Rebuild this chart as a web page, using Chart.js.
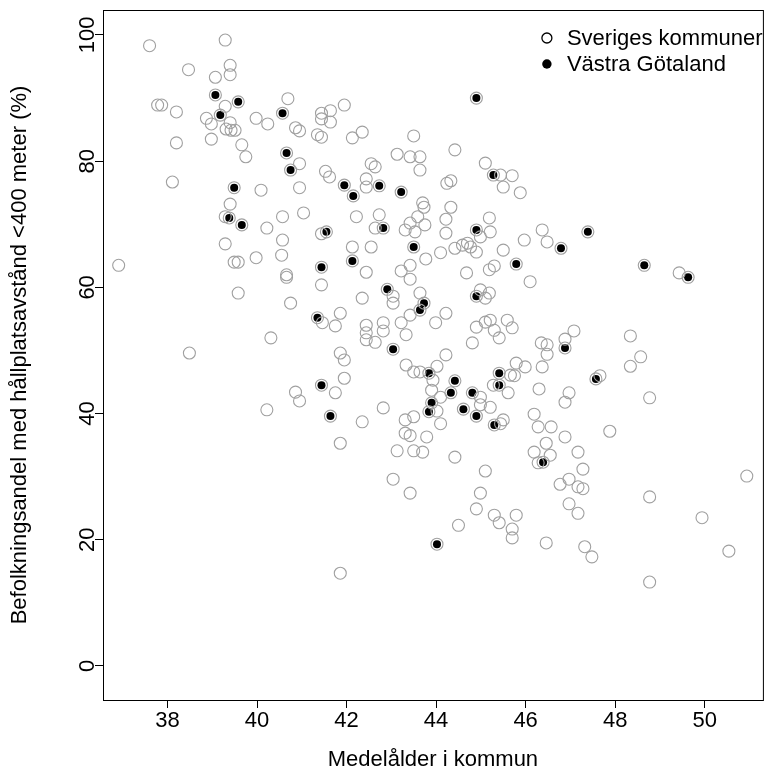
<!DOCTYPE html>
<html>
<head>
<meta charset="utf-8">
<script src="https://cdn.jsdelivr.net/npm/chart.js@4.4.0/dist/chart.umd.min.js"></script>
<style>
  html, body { margin: 0; padding: 0; background: #fff; }
  canvas { display: block; }
</style>
</head>
<body>
<canvas id="myChart" width="770" height="774"></canvas>
<script>
// kommuner utanför Västra Götaland: medelålder (x) och andel (y)
const ovrigaAlder = [
  37.60, 39.29, 38.47, 39.40, 39.40, 39.07, 39.29, 37.78, 37.87, 38.20,
  38.87, 38.98, 39.40, 39.31, 39.42, 39.51, 39.98, 40.24, 38.20, 38.98,
  39.66, 39.75, 38.11, 40.09, 39.40,
  40.69, 40.86, 40.95, 41.44, 41.44, 41.64, 41.64, 41.95, 41.35, 41.44,
  42.13, 42.35, 43.50, 40.95, 40.95, 41.53, 41.62, 42.55, 42.64, 42.44,
  42.44, 43.13, 43.42, 43.64, 43.64, 40.57, 41.04, 42.22, 42.73, 43.70,
  43.73, 43.59,
  44.42, 45.10, 45.44, 45.70, 45.50, 45.88, 44.24, 44.33, 44.33, 45.19, 44.22,
  39.29, 40.22, 39.29, 39.49, 39.58, 39.98, 36.91, 39.58, 40.31, 38.49, 40.22,
  42.64, 43.31, 43.42, 43.53, 43.75, 41.44, 40.57, 40.55, 42.13, 42.55,
  43.77, 40.66, 40.66, 42.44, 43.22, 43.42, 43.42, 41.44, 40.75, 42.35,
  43.04, 43.04, 43.64, 43.42, 43.22, 43.33, 41.86, 41.46, 41.75, 42.44,
  42.44, 42.44, 42.64, 42.82, 42.82, 41.86, 41.95, 43.33, 43.50, 43.64,
  41.95, 40.86, 40.95, 41.75, 42.82,
  44.22, 44.99, 45.21, 45.97, 46.37, 46.48, 44.10, 44.42, 44.59, 44.70,
  44.77, 44.90, 45.50, 44.68, 45.19, 45.30, 46.10, 44.99, 45.19, 45.10,
  43.99, 44.22, 44.90, 45.10, 45.21, 45.30, 45.41, 45.59, 45.70, 44.81,
  46.35, 46.48, 46.48, 46.88, 47.08, 44.22, 44.02, 43.93, 45.79, 45.99,
  45.66, 45.75, 45.28, 45.61, 46.37, 46.30, 46.97, 46.88, 44.99, 43.90,
  44.10, 44.99, 45.21,
  49.43, 48.34, 48.57, 48.34, 47.66, 48.77,
  41.86, 42.35, 43.31, 43.50, 43.31, 43.42, 43.13, 43.50, 43.70, 43.79,
  43.04, 43.42, 41.86,
  44.02, 44.10, 44.42, 45.50, 45.44, 45.10, 44.99, 44.90, 45.30, 45.41,
  45.79, 45.70, 45.70, 44.50, 46.19, 46.28, 46.57, 46.88, 46.46, 46.55,
  46.19, 46.28, 47.17, 47.28, 46.77, 46.97, 47.17, 47.28, 46.97, 47.17,
  46.46, 47.32,
  47.88, 47.48, 48.77, 49.94, 50.94, 50.54, 48.77
];
const ovrigaAndel = [
  98.3, 99.2, 94.5, 95.2, 93.7, 93.3, 88.7, 88.9, 88.9, 87.8,
  86.8, 85.9, 86.1, 85.1, 84.9, 84.9, 86.8, 85.9, 82.9, 83.5,
  82.6, 80.7, 76.7, 75.4, 73.2,
  89.9, 85.3, 84.8, 87.6, 86.7, 88.0, 86.2, 88.9, 84.2, 83.8,
  83.7, 84.6, 84.0, 79.6, 75.8, 78.4, 77.5, 79.6, 79.1, 77.2,
  75.9, 81.1, 80.7, 80.7, 78.6, 71.2, 71.8, 71.2, 71.5, 73.4,
  72.7, 71.2,
  81.8, 79.7, 77.8, 77.7, 75.9, 75.0, 76.5, 76.9, 72.7, 71.0, 70.8,
  71.2, 69.4, 66.9, 64.0, 64.0, 64.7, 63.5, 59.1, 52.0, 49.6, 40.6,
  69.4, 69.1, 70.2, 68.8, 69.9, 68.5, 67.5, 65.1, 66.4, 66.4,
  64.5, 62.0, 61.6, 62.4, 62.6, 63.5, 61.3, 60.4, 57.5, 58.3,
  58.6, 57.5, 59.1, 55.6, 54.4, 52.5, 55.9, 54.4, 53.9, 54.0,
  52.8, 51.7, 51.3, 54.4, 53.1, 49.6, 48.5, 47.7, 46.6, 46.6,
  45.6, 43.4, 42.0, 43.3, 40.9,
  68.6, 68.0, 68.8, 67.5, 69.1, 67.2, 65.5, 66.2, 66.7, 67.0,
  66.4, 65.6, 65.9, 62.3, 62.8, 63.4, 60.9, 59.6, 59.1, 58.3,
  54.4, 55.9, 53.7, 54.5, 54.8, 53.2, 52.0, 54.8, 53.6, 51.2,
  51.2, 50.9, 49.4, 51.8, 53.1, 49.3, 47.5, 45.3, 48.0, 47.4,
  46.1, 46.0, 44.5, 43.3, 47.4, 43.9, 43.3, 41.8, 42.6, 43.7,
  42.6, 41.4, 41.0,
  62.3, 52.3, 49.0, 47.5, 46.0, 42.5,
  35.3, 38.7, 39.0, 39.5, 36.9, 36.5, 34.1, 34.1, 33.9, 36.3,
  29.6, 27.4, 14.7,
  40.4, 38.4, 33.1, 39.0, 38.4, 30.9, 27.4, 24.9, 23.9, 22.7,
  23.9, 21.7, 20.3, 22.3, 39.9, 37.9, 37.9, 36.3, 35.3, 33.4,
  33.9, 32.2, 33.9, 31.2, 28.8, 29.6, 28.4, 28.1, 25.7, 24.2,
  19.5, 18.9,
  37.2, 17.3, 26.8, 23.5, 30.1, 18.2, 13.3
];

// Västra Götalands kommuner
const vgAlder = [
  39.07, 39.18, 39.58, 39.49, 39.38, 39.66, 40.57, 40.66, 40.75, 41.95,
  42.15, 42.73, 43.22, 44.90, 45.28, 41.55, 42.82, 43.50, 41.44, 42.13,
  42.91, 43.73, 43.64, 41.35, 43.04, 41.44, 41.64, 44.90, 46.79, 45.79,
  44.90, 47.39, 48.65, 49.63, 46.88, 47.57, 43.84, 44.42, 44.33, 44.81,
  45.41, 45.41, 43.90, 43.84, 44.61, 44.90, 45.30, 46.39, 44.02
];
const vgAndel = [
  90.5, 87.3, 89.4, 75.8, 71.0, 69.9, 87.6, 81.3, 78.6, 76.2,
  74.5, 76.1, 75.1, 90.0, 77.8, 68.8, 69.4, 66.4, 63.2, 64.2,
  59.7, 57.5, 56.4, 55.2, 50.2, 44.5, 39.6, 69.1, 66.2, 63.7,
  58.6, 68.8, 63.5, 61.6, 50.4, 45.5, 46.4, 45.2, 43.3, 43.3,
  46.4, 44.5, 41.7, 40.3, 40.7, 39.6, 38.2, 32.3, 19.3
];

const xTicks = [38, 40, 42, 44, 46, 48, 50];
const yTicks = [0, 20, 40, 60, 80, 100];
const seriesNames = ["Sveriges kommuner", "Västra Götaland"];
const xTitle = "Medelålder i kommun";
const yTitle = "Befolkningsandel med hållplatsavstånd <400 meter (%)";

const fontFamily = "'Liberation Sans', Arial, sans-serif";
const fontSize = 22;

// ram runt ritytan + legend uppe till höger
const frameAndLegend = {
  id: "frameAndLegend",
  afterDatasetsDraw(chart) {
    const ctx = chart.ctx;
    const a = chart.chartArea;
    ctx.save();
    ctx.strokeStyle = "#000";
    ctx.lineWidth = 1;
    ctx.strokeRect(a.left + 0.5, a.top + 0.5, a.right - a.left, a.bottom - a.top);

    ctx.font = fontSize + "px " + fontFamily;
    ctx.textBaseline = "middle";
    ctx.fillStyle = "#000";
    const x0 = a.right - 216;
    const y0 = a.top + 28;
    chart.data.datasets.forEach((ds, i) => {
      const y = y0 + i * 26;
      ctx.beginPath();
      ctx.arc(x0, y, i === 0 ? 5 : 4.7, 0, 2 * Math.PI);
      if (i === 0) {
        ctx.lineWidth = 1.3;
        ctx.stroke();
      } else {
        ctx.fill();
      }
      ctx.fillText(ds.label, x0 + 20, y + 1);
    });
    ctx.restore();
  },
};

initChart();

function toPoints(xs, ys) {
  return xs.map((x, i) => ({ x: x, y: ys[i] }));
}

function initChart() {
  const ctx = document.getElementById("myChart").getContext("2d");
  const allaAlder = ovrigaAlder.concat(vgAlder);
  const allaAndel = ovrigaAndel.concat(vgAndel);
  const tickFont = { family: fontFamily, size: fontSize };

  window.chart = new Chart(ctx, {
    type: "scatter",
    data: {
      datasets: [
        {
          label: seriesNames[0],
          data: toPoints(allaAlder, allaAndel),
          pointRadius: 6,
          pointHoverRadius: 6,
          pointBorderWidth: 1.1,
          pointBorderColor: "#a0a0a0",
          pointBackgroundColor: "rgba(0,0,0,0)",
        },
        {
          label: seriesNames[1],
          data: toPoints(vgAlder, vgAndel),
          pointRadius: 4,
          pointHoverRadius: 4,
          pointBorderWidth: 0,
          pointBackgroundColor: "#000",
        },
      ],
    },
    options: {
      responsive: false,
      animation: false,
      devicePixelRatio: 1,
      layout: { padding: { top: 10, right: 2, left: 0, bottom: 0 } },
      plugins: {
        legend: { display: false },
        tooltip: { enabled: false },
      },
      scales: {
        x: {
          type: "linear",
          min: 36.56,
          max: 51.3,
          afterBuildTicks: (s) => {
            s.ticks = xTicks.map((v) => ({ value: v }));
          },
          afterFit: (s) => {
            s.height = 74;
          },
          grid: { drawOnChartArea: false, drawTicks: true, tickLength: 8, color: "#000" },
          border: { display: false },
          ticks: { color: "#000", font: tickFont, padding: 0, maxRotation: 0, autoSkip: false },
          title: {
            display: true,
            text: xTitle,
            color: "#000",
            font: tickFont,
            padding: { top: 0, bottom: 1 },
          },
        },
        y: {
          type: "linear",
          min: -5.39,
          max: 103.96,
          afterBuildTicks: (s) => {
            s.ticks = yTicks.map((v) => ({ value: v }));
          },
          afterFit: (s) => {
            s.width = 103;
          },
          grid: { drawOnChartArea: false, drawTicks: true, tickLength: 8, color: "#000" },
          border: { display: false },
          ticks: {
            color: "#000",
            font: tickFont,
            minRotation: 90,
            maxRotation: 90,
            crossAlign: "center",
            padding: -11,
            autoSkip: false,
          },
          title: {
            display: true,
            text: yTitle,
            color: "#000",
            font: tickFont,
            padding: { top: 7, bottom: 0 },
          },
        },
      },
    },
    plugins: [frameAndLegend],
  });
}
</script>
</body>
</html>
